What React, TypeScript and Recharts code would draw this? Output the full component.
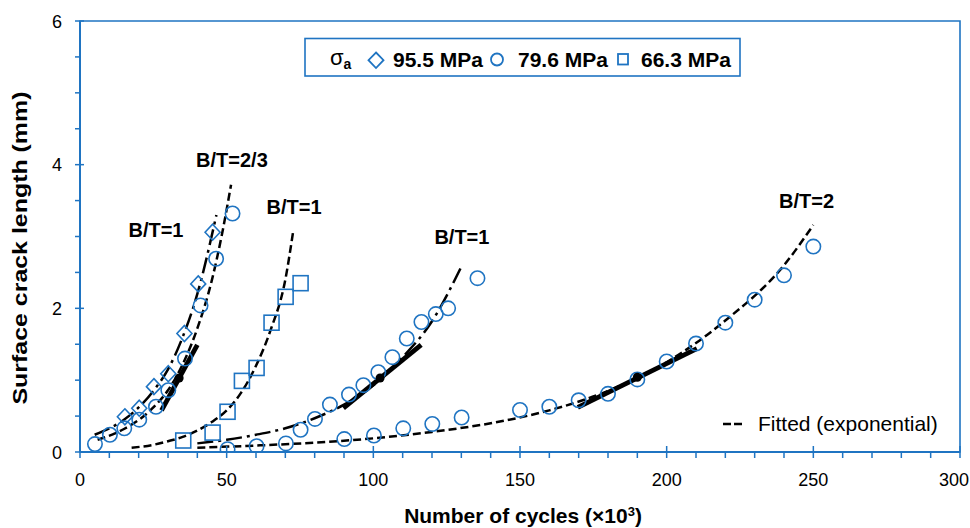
import React from "react";
import {
  ComposedChart,
  Line,
  Scatter,
  XAxis,
  YAxis,
  ReferenceArea,
  ReferenceDot,
} from "recharts";

const BLUE = "#1f74c2";
const FONT = "'Liberation Sans', Arial, Helvetica, sans-serif";

// measured points, [cycles (x10^3), surface crack length (mm)]
const diamonds955 = [
  [15.3, 0.49], [20.2, 0.61], [25.2, 0.91], [30.1, 1.09], [35.6, 1.65], [40.3, 2.34], [45.2, 3.06],
];
const circles796a = [
  [5.1, 0.11], [10.2, 0.24], [15.1, 0.33], [20.2, 0.45], [25.9, 0.63],
  [30.1, 0.86], [35.8, 1.3], [41.1, 2.04], [46.4, 2.69], [52.0, 3.32],
];
const circles796b = [
  [75.2, 0.31], [80.1, 0.46], [85.2, 0.66], [91.7, 0.8], [96.6, 0.93], [101.7, 1.11],
  [106.5, 1.32], [111.4, 1.58], [116.4, 1.81], [121.3, 1.92], [125.5, 2.0], [135.5, 2.42],
];
const circles796c = [
  [50.3, 0.04], [60.2, 0.08], [70.2, 0.12], [90.1, 0.18], [100.2, 0.23], [110.2, 0.33],
  [120.1, 0.39], [130.1, 0.48], [150, 0.585], [160, 0.63], [170, 0.72], [180, 0.81],
  [190, 1.01], [200, 1.26], [210, 1.51], [220, 1.8], [230, 2.12], [240, 2.46], [250, 2.86],
];
const squares663 = [
  [35.2, 0.16], [45.2, 0.27], [50.3, 0.56], [55.2, 0.99], [60.2, 1.17], [65.3, 1.8], [70.1, 2.16], [75.2, 2.35],
];

// fitted curves
const fitDashA = [
  [6, 0.17], [15, 0.32], [25, 0.62], [30, 0.86], [35, 1.22], [40, 1.72], [45, 2.4], [48, 2.95], [51.5, 3.72],
];
const fitDotA = [
  [5, 0.24], [15, 0.45], [20, 0.62], [25, 0.85], [30, 1.15], [35, 1.6], [40, 2.2], [46.5, 3.3],
];
const fitDashSq = [
  [17.6, 0.06], [25, 0.1], [30, 0.15], [35, 0.21], [40, 0.3], [45, 0.42], [50, 0.58],
  [55, 0.83], [60, 1.2], [65, 1.7], [70, 2.4], [72.7, 3.08],
];
const fitDotB = [
  [40, 0.12], [50, 0.17], [60, 0.24], [70, 0.33], [80, 0.47], [90, 0.66], [100, 0.93],
  [110, 1.32], [120, 1.82], [130, 2.58],
];
const fitDashC = [
  [40, 0.06], [60, 0.09], [80, 0.13], [100, 0.19], [120, 0.28], [140, 0.4], [160, 0.58],
  [180, 0.85], [200, 1.25], [220, 1.83], [240, 2.6], [250, 3.16],
];

// tangent segments and their contact points
const tangentA = [[27.8, 0.58], [40, 1.49]];
const tangentB = [[89.8, 0.61], [116.3, 1.49]];
const tangentC = [[169.7, 0.62], [210.3, 1.44]];
const contactPts = [[33.8, 1.03], [102.3, 1.03], [190, 1.04]];

const xTicks = [0, 10, 20, 30, 40, 50, 60, 70, 80, 90, 100, 110, 120, 130, 140, 150, 160, 170, 180, 190, 200,
  210, 220, 230, 240, 250, 260, 270, 280, 290, 300];
const xTickLabels = [0, 50, 100, 150, 200, 250, 300];
const yTicks = [0, 0.5, 1, 1.5, 2, 2.5, 3, 3.5, 4, 4.5, 5, 5.5, 6];
const yTickLabels = [0, 2, 4, 6];

const annotations = [
  { x: 51.8, y: 4.07, text: "B/T=2/3" },
  { x: 25.9, y: 3.09, text: "B/T=1" },
  { x: 73.0, y: 3.41, text: "B/T=1" },
  { x: 130.2, y: 2.99, text: "B/T=1" },
  { x: 247.7, y: 3.5, text: "B/T=2" },
];

const pts = (a: number[][]) => a.map(([x, y]) => ({ x, y }));

const CircleShape = (p: any) => (
  <circle cx={p.cx} cy={p.cy} r={7.2} fill="none" stroke={BLUE} strokeWidth={1.6} />
);
const SquareShape = (p: any) => (
  <rect x={p.cx - 7.5} y={p.cy - 7.5} width={15} height={15} fill="none" stroke={BLUE} strokeWidth={1.6} />
);
const DiamondShape = (p: any) => (
  <path
    d={`M${p.cx},${p.cy - 8} L${p.cx + 7.5},${p.cy} L${p.cx},${p.cy + 8} L${p.cx - 7.5},${p.cy} Z`}
    fill="none"
    stroke={BLUE}
    strokeWidth={1.6}
  />
);
const ContactShape = (p: any) => <circle cx={p.cx} cy={p.cy} r={4.5} fill="#000" />;

const XTick = (p: any) => {
  const { x, y, payload } = p;
  const major = xTickLabels.includes(payload.value);
  const last = payload.value === xTickLabels[xTickLabels.length - 1];
  return (
    <g>
      <line x1={x} x2={x} y1={major ? y - 6 : y} y2={y + 6} stroke={BLUE} strokeWidth={1.5} />
      {major && (
        <text
          x={last ? x + 9 : x}
          y={y + 34}
          textAnchor={last ? "end" : "middle"}
          fontSize={18}
          fontFamily={FONT}
          fill="#000"
        >
          {payload.value}
        </text>
      )}
    </g>
  );
};

const YTick = (p: any) => {
  const { x, y, payload } = p;
  const major = yTickLabels.includes(payload.value);
  return (
    <g>
      <line x1={x - 5} x2={major ? x + 4 : x} y1={y} y2={y} stroke={BLUE} strokeWidth={1.5} />
      {major && (
        <text x={x - 18} y={y + 6.5} textAnchor="end" fontSize={18} fontFamily={FONT} fill="#000">
          {payload.value}
        </text>
      )}
    </g>
  );
};

const YTitle = () => (
  <text
    transform="translate(27,248) rotate(-90)"
    textAnchor="middle"
    fontSize={20}
    fontWeight="bold"
    fontFamily={FONT}
    textLength={313}
    lengthAdjust="spacingAndGlyphs"
    fill="#000"
  >
    Surface crack length (mm)
  </text>
);

const XTitle = () => (
  <text x={523} y={523} textAnchor="middle" fontSize={21} fontWeight="bold" fontFamily={FONT} fill="#000">
    Number of cycles (×10
    <tspan dy={-7} fontSize={13}>3</tspan>
    <tspan dy={7}>)</tspan>
  </text>
);

const AnnotationLabel = (text: string) => (props: any) => {
  const vb = props.viewBox;
  return (
    <text
      x={vb.x + vb.width / 2}
      y={vb.y + vb.height / 2 + 7}
      textAnchor="middle"
      fontSize={20}
      fontWeight="bold"
      fontFamily={FONT}
      fill="#000"
    >
      {text}
    </text>
  );
};

const legendText = { fontSize: 21, fontWeight: "bold" as const, fontFamily: FONT, fill: "#000" };

const Legends = () => (
  <svg
    width={970}
    height={528}
    style={{ position: "absolute", left: 0, top: 0, pointerEvents: "none" }}
  >
    <rect x={305} y={38.5} width={435} height={37.5} fill="#fff" stroke={BLUE} strokeWidth={1.6} />
    <text x={330} y={65} fontSize={22} fontFamily={FONT} fill="#000">
      σ
      <tspan dy={4} fontSize={14} fontWeight="bold">a</tspan>
    </text>
    <path d="M376,52.5 L383.5,60.2 L376,68 L368.5,60.2 Z" fill="none" stroke={BLUE} strokeWidth={1.8} />
    <text x={393} y={66.5} {...legendText}>95.5 MPa</text>
    <circle cx={497} cy={59.5} r={6} fill="none" stroke={BLUE} strokeWidth={1.8} />
    <text x={518} y={66.5} {...legendText}>79.6 MPa</text>
    <rect x={618} y={54} width={10} height={10.5} fill="none" stroke={BLUE} strokeWidth={1.8} />
    <text x={641} y={66.5} {...legendText}>66.3 MPa</text>

    <line x1={723} x2={742} y1={424} y2={424} stroke="#000" strokeWidth={2.5} strokeDasharray="8 3" />
    <text x={758} y={431} fontSize={21} fontFamily={FONT} fill="#000">
      Fitted (exponential)
    </text>
  </svg>
);

export default function App(): React.ReactElement {
  return (
    <div style={{ position: "absolute", left: 0, top: 0, width: 970, height: 528, background: "#fff" }}>
      <ComposedChart width={970} height={528} margin={{ top: 21, right: 10, bottom: 16, left: 0 }}>
        <ReferenceArea x1={0} x2={300} y1={0} y2={6} fill="none" stroke={BLUE} strokeWidth={1.6} />
        <XAxis
          dataKey="x"
          type="number"
          domain={[0, 300]}
          ticks={xTicks}
          interval={0}
          allowDataOverflow
          height={60}
          tickSize={0}
          tickMargin={0}
          tickLine={false}
          axisLine={{ stroke: BLUE, strokeWidth: 2 }}
          tick={<XTick />}
          label={<XTitle />}
        />
        <YAxis
          dataKey="y"
          type="number"
          domain={[0, 6]}
          ticks={yTicks}
          interval={0}
          allowDataOverflow
          width={80}
          tickSize={0}
          tickMargin={0}
          tickLine={false}
          axisLine={{ stroke: BLUE, strokeWidth: 2 }}
          tick={<YTick />}
          label={<YTitle />}
        />

        <Line data={pts(fitDashA)} dataKey="y" type="monotone" stroke="#000" strokeWidth={2.5}
          strokeDasharray="8 4" dot={false} isAnimationActive={false} />
        <Line data={pts(fitDotA)} dataKey="y" type="monotone" stroke="#000" strokeWidth={2.5}
          strokeDasharray="16 5 3 5" dot={false} isAnimationActive={false} />
        <Line data={pts(fitDashSq)} dataKey="y" type="monotone" stroke="#000" strokeWidth={2.5}
          strokeDasharray="8 4" dot={false} isAnimationActive={false} />
        <Line data={pts(fitDotB)} dataKey="y" type="monotone" stroke="#000" strokeWidth={2.5}
          strokeDasharray="16 5 3 5" dot={false} isAnimationActive={false} />
        <Line data={pts(fitDashC)} dataKey="y" type="monotone" stroke="#000" strokeWidth={2.5}
          strokeDasharray="8 4" dot={false} isAnimationActive={false} />

        <Line data={pts(tangentA)} dataKey="y" type="linear" stroke="#000" strokeWidth={4.8}
          dot={false} isAnimationActive={false} />
        <Line data={pts(tangentB)} dataKey="y" type="linear" stroke="#000" strokeWidth={4.8}
          dot={false} isAnimationActive={false} />
        <Line data={pts(tangentC)} dataKey="y" type="linear" stroke="#000" strokeWidth={4.8}
          dot={false} isAnimationActive={false} />

        <Scatter data={pts(diamonds955)} dataKey="y" shape={DiamondShape} isAnimationActive={false} />
        <Scatter data={pts(circles796a)} dataKey="y" shape={CircleShape} isAnimationActive={false} />
        <Scatter data={pts(circles796b)} dataKey="y" shape={CircleShape} isAnimationActive={false} />
        <Scatter data={pts(circles796c)} dataKey="y" shape={CircleShape} isAnimationActive={false} />
        <Scatter data={pts(squares663)} dataKey="y" shape={SquareShape} isAnimationActive={false} />
        <Scatter data={pts(contactPts)} dataKey="y" shape={ContactShape} isAnimationActive={false} />

        {annotations.map((a, i) => (
          <ReferenceDot key={i} x={a.x} y={a.y} r={0} fill="none" stroke="none" label={AnnotationLabel(a.text)} />
        ))}
      </ComposedChart>
      <Legends />
    </div>
  );
}
